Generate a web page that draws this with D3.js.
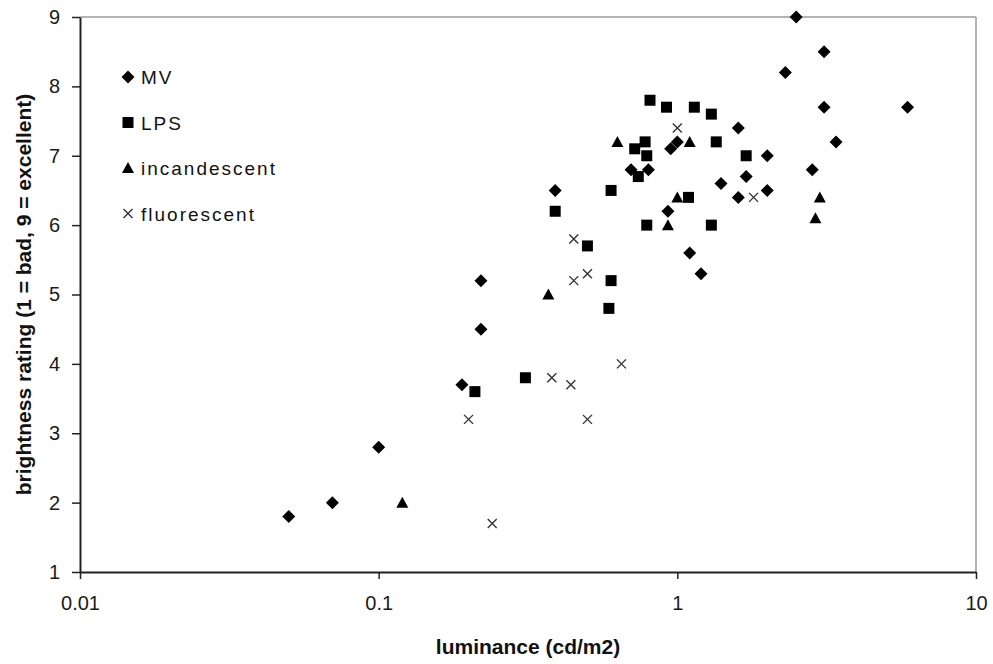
<!DOCTYPE html>
<html>
<head>
<meta charset="utf-8">
<script src="https://cdn.jsdelivr.net/npm/d3@7"></script>
<style>
  html, body { margin: 0; padding: 0; background: #fff; }
  svg { display: block; font-family: "Liberation Sans", Arial, sans-serif; }
</style>
</head>
<body>
<div id="chart"></div>
<script>
/* Brightness rating vs luminance, by lamp type (log x axis) */

var seriesNames = ['MV', 'LPS', 'incandescent', 'fluorescent'];

var mvLum  = [0.05, 0.07, 0.1, 0.19, 0.22, 0.22, 0.39, 0.7, 0.8, 0.95, 1.0, 0.93, 1.1, 1.2, 1.4, 1.6, 1.7, 1.6, 2.0, 2.0, 2.3, 2.5, 3.1, 3.1, 3.4, 2.83, 5.9];
var mvRate = [1.8, 2.0, 2.8, 3.7, 5.2, 4.5, 6.5, 6.8, 6.8, 7.1, 7.2, 6.2, 5.6, 5.3, 6.6, 7.4, 6.7, 6.4, 7.0, 6.5, 8.2, 9.0, 8.5, 7.7, 7.2, 6.8, 7.7];

var lpsLum  = [0.21, 0.31, 0.39, 0.5, 0.6, 0.59, 0.6, 0.72, 0.78, 0.79, 0.74, 0.81, 0.92, 1.14, 1.3, 1.35, 1.09, 0.79, 1.3, 1.7];
var lpsRate = [3.6, 3.8, 6.2, 5.7, 5.2, 4.8, 6.5, 7.1, 7.2, 7.0, 6.7, 7.8, 7.7, 7.7, 7.6, 7.2, 6.4, 6.0, 6.0, 7.0];

var incLum  = [0.12, 0.37, 0.63, 1.1, 1.0, 0.93, 3.0, 2.9];
var incRate = [2.0, 5.0, 7.2, 7.2, 6.4, 6.0, 6.4, 6.1];

var fluLum  = [0.2, 0.24, 0.38, 0.44, 0.5, 0.65, 0.45, 0.45, 0.5, 1.0, 1.8];
var fluRate = [3.2, 1.7, 3.8, 3.7, 3.2, 4.0, 5.8, 5.2, 5.3, 7.4, 6.4];

var xTickVals = [0.01, 0.1, 1, 10];
var xTickLabels = ['0.01', '0.1', '1', '10'];
var yTickVals = [1, 2, 3, 4, 5, 6, 7, 8, 9];

(function () {
  'use strict';

  var W = 993, H = 664;
  var margin = { top: 17, right: 17, bottom: 92, left: 80 };
  var iw = W - margin.left - margin.right;
  var ih = H - margin.top - margin.bottom;

  var svg = d3.select('#chart').append('svg')
    .attr('width', W).attr('height', H);

  var g = svg.append('g')
    .attr('transform', 'translate(' + margin.left + ',' + margin.top + ')');

  var x = d3.scaleLog().domain([0.01, 10]).range([0, iw]);
  var y = d3.scaleLinear().domain([1, 9]).range([ih, 0]);

  /* frame: grey top/right, dark left/bottom */
  g.append('line').attr('x1', 0).attr('x2', iw).attr('y1', 0).attr('y2', 0)
    .attr('stroke', '#9a9a9a').attr('stroke-width', 1.5);
  g.append('line').attr('x1', iw).attr('x2', iw).attr('y1', 0).attr('y2', ih)
    .attr('stroke', '#9a9a9a').attr('stroke-width', 1.5);

  var xAxis = d3.axisBottom(x).tickValues(xTickVals)
    .tickFormat(function (d, i) { return xTickLabels[i]; })
    .tickSizeInner(7).tickSizeOuter(0).tickPadding(17);
  var yAxis = d3.axisLeft(y).tickValues(yTickVals)
    .tickFormat(d3.format('d'))
    .tickSizeInner(8).tickSizeOuter(0).tickPadding(12);

  var gx = g.append('g').attr('transform', 'translate(0,' + ih + ')').call(xAxis);
  var gy = g.append('g').call(yAxis);

  [gx, gy].forEach(function (ax) {
    ax.select('.domain').attr('stroke', '#222').attr('stroke-width', 2);
    ax.selectAll('.tick line').attr('stroke', '#222').attr('stroke-width', 1.5);
    ax.selectAll('.tick text')
      .style('font-family', '"Liberation Sans", Arial, sans-serif')
      .style('font-size', '20px').attr('fill', '#1a1a1a');
  });

  /* axis titles */
  svg.append('text')
    .attr('x', margin.left + iw / 2).attr('y', 654)
    .attr('text-anchor', 'middle')
    .style('font-size', '21px').style('font-weight', 'bold').attr('fill', '#111')
    .text('luminance (cd/m2)');

  svg.append('text')
    .attr('transform', 'translate(31,' + (margin.top + ih / 2) + ') rotate(-90)')
    .attr('text-anchor', 'middle')
    .style('font-size', '21px').style('font-weight', 'bold').attr('fill', '#111')
    .text('brightness rating (1 = bad, 9 = excellent)');

  /* marker shapes */
  function diamondPath(cx, cy) {
    var r = 6.5;
    return 'M' + cx + ',' + (cy - r) + 'L' + (cx + r) + ',' + cy +
           'L' + cx + ',' + (cy + r) + 'L' + (cx - r) + ',' + cy + 'Z';
  }
  function squarePath(cx, cy) {
    var r = 5.5;
    return 'M' + (cx - r) + ',' + (cy - r) + 'h' + (2 * r) + 'v' + (2 * r) + 'h' + (-2 * r) + 'Z';
  }
  function trianglePath(cx, cy) {
    var r = 6;
    return 'M' + cx + ',' + (cy - r) + 'L' + (cx + r) + ',' + (cy + 5) +
           'L' + (cx - r) + ',' + (cy + 5) + 'Z';
  }
  function crossPath(cx, cy) {
    var r = 4.5;
    return 'M' + (cx - r) + ',' + (cy - r) + 'L' + (cx + r) + ',' + (cy + r) +
           'M' + (cx + r) + ',' + (cy - r) + 'L' + (cx - r) + ',' + (cy + r);
  }

  var series = [
    { name: seriesNames[0], lum: mvLum,  rate: mvRate,  shape: diamondPath,  filled: true },
    { name: seriesNames[1], lum: lpsLum, rate: lpsRate, shape: squarePath,   filled: true },
    { name: seriesNames[2], lum: incLum, rate: incRate, shape: trianglePath, filled: true },
    { name: seriesNames[3], lum: fluLum, rate: fluRate, shape: crossPath,    filled: false }
  ];

  function styleMark(sel, s) {
    if (s.filled) {
      sel.attr('fill', '#000').attr('stroke', 'none');
    } else {
      sel.attr('fill', 'none').attr('stroke', '#333').attr('stroke-width', 1.4);
    }
  }

  series.forEach(function (s) {
    var pts = s.lum.map(function (v, i) { return [v, s.rate[i]]; });
    g.append('g').selectAll('path').data(pts).enter().append('path')
      .attr('d', function (d) { return s.shape(x(d[0]), y(d[1])); })
      .call(styleMark, s);
  });

  /* legend */
  var leg = svg.append('g').attr('transform', 'translate(128,77)');
  series.forEach(function (s, i) {
    var row = leg.append('g').attr('transform', 'translate(0,' + (i * 45.5) + ')');
    row.append('path').attr('d', s.shape(0, 0)).call(styleMark, s);
    row.append('text').attr('x', 13).attr('y', 7)
      .style('font-size', '19px').style('letter-spacing', '2px').attr('fill', '#111')
      .text(s.name);
  });
})();
</script>
</body>
</html>
